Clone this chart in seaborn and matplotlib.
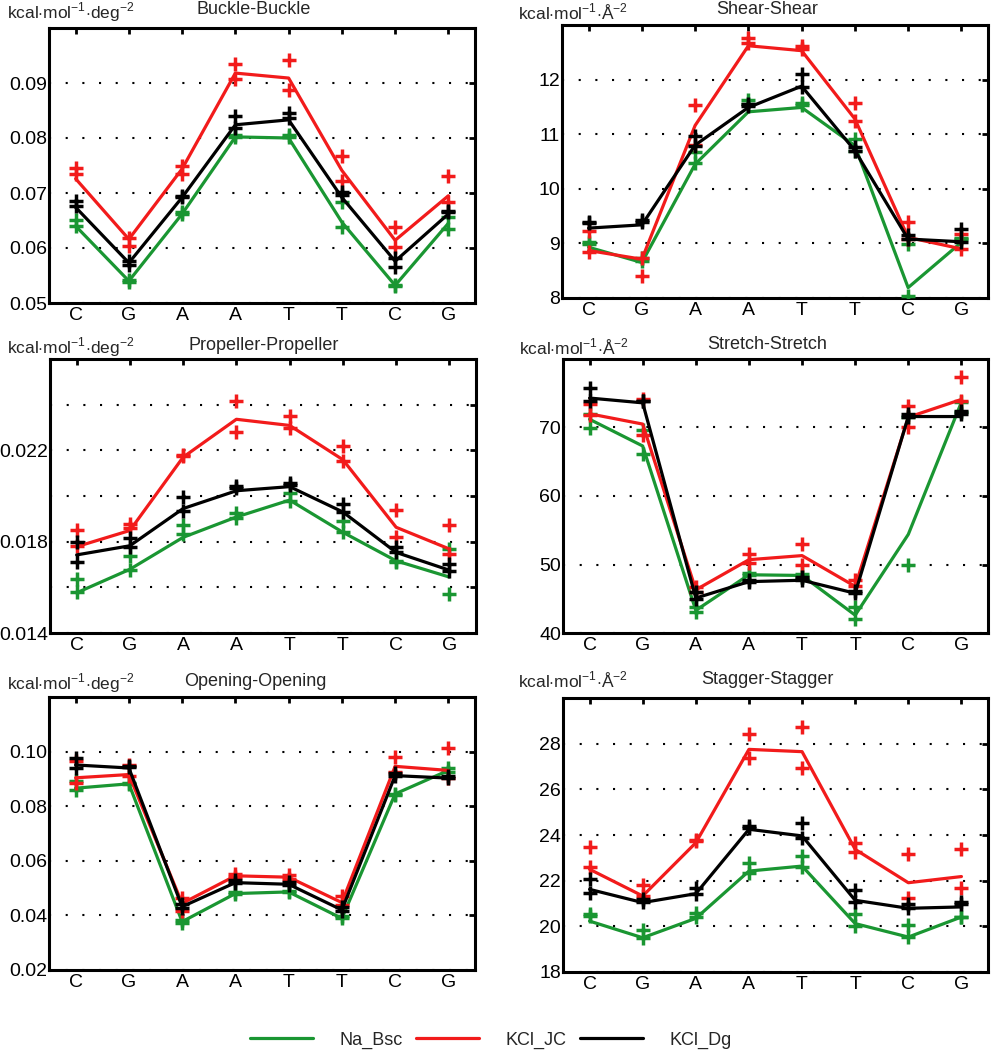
import pandas as pd
import matplotlib
matplotlib.use("Agg")
import matplotlib.pyplot as plt
import seaborn as sns

bases = ["C", "G", "A", "A", "T", "T", "C", "G"]
models = ["Na_Bsc", "KCl_JC", "KCl_Dg"]
palette = {"Na_Bsc": "#1a9632", "KCl_JC": "#f21b1b", "KCl_Dg": "#000000"}

unit_deg = r"kcal$\cdot$mol$^{-1}$$\cdot$deg$^{-2}$"
unit_ang = r"kcal$\cdot$mol$^{-1}$$\cdot$Å$^{-2}$"

# Buckle-Buckle: line (average) and the two per-strand values
buckle_na = [0.0640, 0.0540, 0.0662, 0.0802, 0.0800, 0.0647, 0.0532, 0.0645]
buckle_na_a = [0.0651, 0.0541, 0.0666, 0.0805, 0.0805, 0.0683, 0.0532, 0.0657]
buckle_na_b = [0.0640, 0.0539, 0.0662, 0.0802, 0.0801, 0.0639, 0.0531, 0.0635]
buckle_jc = [0.0726, 0.0616, 0.0744, 0.0918, 0.0909, 0.0741, 0.0614, 0.0695]
buckle_jc_a = [0.0746, 0.0619, 0.0750, 0.0935, 0.0941, 0.0767, 0.0639, 0.0731]
buckle_jc_b = [0.0735, 0.0604, 0.0735, 0.0907, 0.0887, 0.0722, 0.0601, 0.0683]
buckle_dg = [0.0674, 0.0573, 0.0692, 0.0824, 0.0833, 0.0692, 0.0576, 0.0662]
buckle_dg_a = [0.0686, 0.0576, 0.0695, 0.0840, 0.0846, 0.0701, 0.0582, 0.0668]
buckle_dg_b = [0.0677, 0.0570, 0.0692, 0.0819, 0.0836, 0.0697, 0.0565, 0.0665]

# Shear-Shear
shear_na = [8.93, 8.65, 10.45, 11.41, 11.49, 10.79, 8.19, 9.02]
shear_na_a = [9.02, 8.74, 10.67, 11.62, 11.58, 10.92, 8.99, 9.09]
shear_na_b = [8.99, 8.68, 10.47, 11.55, 11.54, 10.70, 8.04, 9.08]
shear_jc = [8.87, 8.71, 11.16, 12.62, 12.53, 11.28, 9.11, 8.90]
shear_jc_a = [9.23, 8.74, 11.54, 12.76, 12.62, 11.58, 9.40, 9.17]
shear_jc_b = [8.85, 8.41, 10.80, 12.67, 12.56, 11.25, 9.08, 8.90]
shear_dg = [9.28, 9.34, 10.80, 11.49, 11.88, 10.70, 9.08, 9.03]
shear_dg_a = [9.40, 9.43, 10.96, 11.55, 12.10, 10.76, 9.15, 9.26]
shear_dg_b = [9.37, 9.40, 10.79, 11.51, 11.86, 10.70, 9.08, 9.03]

# Propeller-Propeller
prop_na = [0.01576, 0.01679, 0.01819, 0.01908, 0.01982, 0.01841, 0.01716, 0.01645]
prop_na_a = [0.01635, 0.01738, 0.01871, 0.01925, 0.02011, 0.01890, 0.01716, 0.01768]
prop_na_b = [0.01579, 0.01675, 0.01834, 0.01905, 0.01979, 0.01841, 0.01713, 0.01571]
prop_jc = [0.01778, 0.01849, 0.02170, 0.02336, 0.02309, 0.02159, 0.01863, 0.01768]
prop_jc_a = [0.01849, 0.01878, 0.02179, 0.02417, 0.02351, 0.02218, 0.01937, 0.01874]
prop_jc_b = [0.01782, 0.01861, 0.02173, 0.02281, 0.02299, 0.02154, 0.01822, 0.01748]
prop_dg = [0.01742, 0.01782, 0.01945, 0.02023, 0.02041, 0.01930, 0.01753, 0.01675]
prop_dg_a = [0.01797, 0.01816, 0.01996, 0.02044, 0.02055, 0.01964, 0.01775, 0.01704]
prop_dg_b = [0.01713, 0.01778, 0.01933, 0.02033, 0.02048, 0.01930, 0.01753, 0.01672]

# Stretch-Stretch
stretch_na = [71.2, 67.3, 43.3, 48.5, 48.4, 42.6, 54.4, 73.7]
stretch_na_a = [71.9, 69.7, 43.8, 48.8, 48.6, 43.8, 71.6, 73.7]
stretch_na_b = [69.9, 66.1, 43.0, 48.5, 48.2, 42.0, 49.9, 72.2]
stretch_jc = [72.0, 70.5, 46.3, 50.7, 51.3, 46.8, 71.5, 74.1]
stretch_jc_a = [73.4, 74.2, 46.7, 51.6, 53.0, 47.7, 73.1, 77.3]
stretch_jc_b = [71.8, 68.9, 46.0, 50.2, 49.9, 46.9, 70.1, 73.8]
stretch_dg = [74.3, 73.6, 45.1, 47.5, 47.7, 45.8, 71.6, 71.6]
stretch_dg_a = [75.8, 73.9, 46.0, 47.8, 48.2, 46.2, 72.0, 72.4]
stretch_dg_b = [73.8, 73.8, 44.9, 47.5, 47.7, 45.9, 71.6, 72.0]

# Opening-Opening
open_na = [0.0866, 0.0882, 0.0377, 0.0480, 0.0486, 0.0389, 0.0845, 0.0931]
open_na_a = [0.0894, 0.0886, 0.0383, 0.0486, 0.0489, 0.0399, 0.0845, 0.0939]
open_na_b = [0.0861, 0.0881, 0.0373, 0.0477, 0.0486, 0.0389, 0.0842, 0.0927]
open_jc = [0.0904, 0.0916, 0.0444, 0.0545, 0.0540, 0.0447, 0.0946, 0.0931]
open_jc_a = [0.0967, 0.0951, 0.0462, 0.0553, 0.0547, 0.0472, 0.0979, 0.1013]
open_jc_b = [0.0886, 0.0912, 0.0416, 0.0541, 0.0535, 0.0438, 0.0927, 0.0903]
open_dg = [0.0951, 0.0940, 0.0432, 0.0520, 0.0514, 0.0420, 0.0912, 0.0903]
open_dg_a = [0.0976, 0.0949, 0.0440, 0.0529, 0.0523, 0.0432, 0.0922, 0.0910]
open_dg_b = [0.0939, 0.0943, 0.0428, 0.0517, 0.0511, 0.0416, 0.0910, 0.0903]

# Stagger-Stagger
stag_na = [20.23, 19.50, 20.35, 22.42, 22.64, 20.12, 19.53, 20.41]
stag_na_a = [20.55, 19.82, 20.60, 22.79, 23.08, 20.53, 20.06, 20.43]
stag_na_b = [20.45, 19.50, 20.41, 22.35, 22.60, 20.01, 19.53, 20.41]
stag_jc = [22.50, 21.33, 23.66, 27.75, 27.65, 23.37, 21.91, 22.18]
stag_jc_a = [23.47, 21.81, 23.77, 28.41, 28.74, 23.66, 23.15, 23.37]
stag_jc_b = [22.60, 21.33, 23.72, 27.36, 26.95, 23.27, 21.26, 21.69]
stag_dg = [21.62, 21.04, 21.43, 24.25, 23.96, 21.14, 20.79, 20.85]
stag_dg_a = [22.06, 21.18, 21.66, 24.39, 24.51, 21.58, 20.96, 21.08]
stag_dg_b = [21.47, 21.08, 21.40, 24.29, 23.88, 21.08, 20.79, 20.99]

# rect = axes box in pixels (left, top, right, bottom); title/unit = text anchor in pixels
panels = [
    dict(title="Buckle-Buckle", unit=unit_deg,
         lines=[buckle_na, buckle_jc, buckle_dg],
         pts=[(buckle_na_a, buckle_na_b), (buckle_jc_a, buckle_jc_b), (buckle_dg_a, buckle_dg_b)],
         ylim=(0.05, 0.10), ticks=[0.05, 0.06, 0.07, 0.08, 0.09],
         labels=["0.05", "0.06", "0.07", "0.08", "0.09"],
         rect=[49, 28, 475, 303], title_xy=(254, 9), unit_xy=(7, 12)),
    dict(title="Shear-Shear", unit=unit_ang,
         lines=[shear_na, shear_jc, shear_dg],
         pts=[(shear_na_a, shear_na_b), (shear_jc_a, shear_jc_b), (shear_dg_a, shear_dg_b)],
         ylim=(8, 13), ticks=[8, 9, 10, 11, 12],
         labels=["8", "9", "10", "11", "12"],
         rect=[562, 25, 988, 298], title_xy=(767, 9), unit_xy=(518, 12)),
    dict(title="Propeller-Propeller", unit=unit_deg,
         lines=[prop_na, prop_jc, prop_dg],
         pts=[(prop_na_a, prop_na_b), (prop_jc_a, prop_jc_b), (prop_dg_a, prop_dg_b)],
         ylim=(0.014, 0.026), ticks=[0.014, 0.016, 0.018, 0.020, 0.022, 0.024],
         labels=["0.014", "", "0.018", "", "0.022", ""],
         rect=[50, 359, 476, 633], title_xy=(264, 346), unit_xy=(7, 347)),
    dict(title="Stretch-Stretch", unit=unit_ang,
         lines=[stretch_na, stretch_jc, stretch_dg],
         pts=[(stretch_na_a, stretch_na_b), (stretch_jc_a, stretch_jc_b), (stretch_dg_a, stretch_dg_b)],
         ylim=(40, 80), ticks=[40, 50, 60, 70],
         labels=["40", "50", "60", "70"],
         rect=[563, 359, 988, 633], title_xy=(767, 345), unit_xy=(519, 347)),
    dict(title="Opening-Opening", unit=unit_deg,
         lines=[open_na, open_jc, open_dg],
         pts=[(open_na_a, open_na_b), (open_jc_a, open_jc_b), (open_dg_a, open_dg_b)],
         ylim=(0.02, 0.12), ticks=[0.02, 0.04, 0.06, 0.08, 0.10],
         labels=["0.02", "0.04", "0.06", "0.08", "0.10"],
         rect=[49, 697, 475, 970], title_xy=(255, 681), unit_xy=(7, 683)),
    dict(title="Stagger-Stagger", unit=unit_ang,
         lines=[stag_na, stag_jc, stag_dg],
         pts=[(stag_na_a, stag_na_b), (stag_jc_a, stag_jc_b), (stag_dg_a, stag_dg_b)],
         ylim=(18, 30), ticks=[18, 20, 22, 24, 26, 28],
         labels=["18", "20", "22", "24", "26", "28"],
         rect=[563, 698, 988, 972], title_xy=(767, 680), unit_xy=(518, 680)),
]

sns.set_theme(style="white")
plt.rcParams["font.family"] = ["Liberation Sans", "DejaVu Sans"]
plt.rcParams["mathtext.fontset"] = "custom"
plt.rcParams["mathtext.rm"] = "Liberation Sans"

W, H = 991, 1050
fig = plt.figure(figsize=(W / 100, H / 100), dpi=100)
pos = list(range(len(bases)))

handles = labels = None
for p in panels:
    x0, y0, x1, y1 = p["rect"]
    ax = fig.add_axes([x0 / W, 1 - y1 / H, (x1 - x0) / W, (y1 - y0) / H])

    line_df = pd.concat(
        [pd.DataFrame({"pos": pos, "value": v, "model": m}) for m, v in zip(models, p["lines"])]
    )
    pts_df = pd.concat(
        [pd.DataFrame({"pos": pos + pos, "value": list(a) + list(b), "model": m})
         for m, (a, b) in zip(models, p["pts"])]
    )

    for m in models:
        sns.scatterplot(data=pts_df[pts_df.model == m], x="pos", y="value", color=palette[m],
                        marker="+", s=95, linewidth=2.5, legend=False, ax=ax, zorder=3)
        sns.lineplot(data=line_df[line_df.model == m], x="pos", y="value", color=palette[m],
                     linewidth=2.3, estimator=None, sort=False, label=m, ax=ax, zorder=3)

    if handles is None:
        handles, labels = ax.get_legend_handles_labels()
    ax.get_legend().remove()

    ax.set_xlim(-0.5, 7.5)
    ax.set_ylim(*p["ylim"])
    ax.set_xticks(pos, bases)
    ax.set_yticks(p["ticks"], p["labels"])
    ax.set_xlabel("")
    ax.set_ylabel("")
    ax.yaxis.grid(True, linestyle=(0, (1, 7)), color="black", linewidth=1.5)
    ax.xaxis.grid(False)
    ax.tick_params(direction="in", top=True, right=True, length=4, width=2,
                   labelsize=14, colors="black")
    ax.tick_params(axis="y", pad=1.5)
    ax.tick_params(axis="x", pad=3)
    for s in ax.spines.values():
        s.set_linewidth(2.2)
        s.set_color("black")

    tx, ty = p["title_xy"]
    ux, uy = p["unit_xy"]
    fig.text(tx / W, 1 - ty / H, p["title"], ha="center", va="center", fontsize=13)
    fig.text(ux / W, 1 - uy / H, p["unit"], ha="left", va="center", fontsize=12.5)

fig.legend(handles, labels, loc="center", bbox_to_anchor=(0.495, 1 - 1040 / H), ncol=3,
           frameon=False, handlelength=3.5, handletextpad=1.45, columnspacing=0.75, fontsize=13)

fig.savefig("out.png", dpi=100)
